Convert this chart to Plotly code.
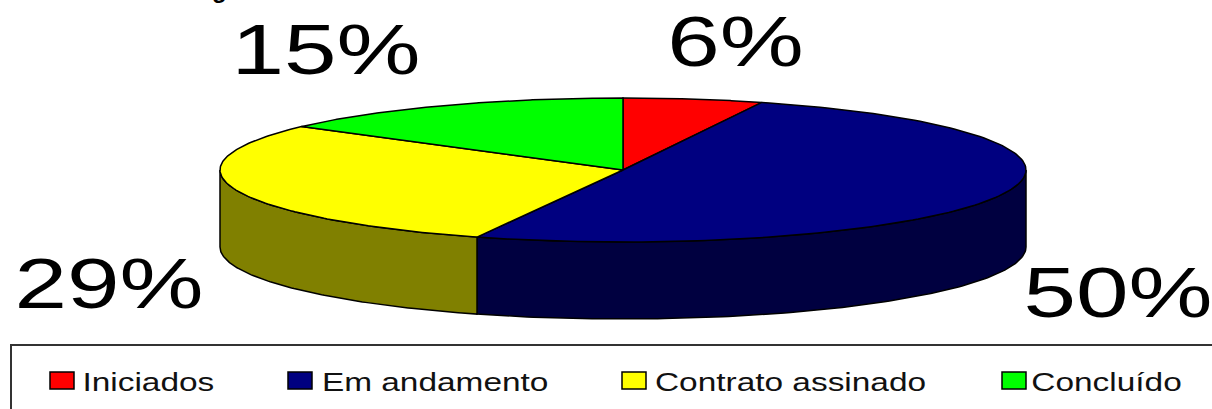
import numpy as np
import plotly.graph_objects as go

categories = ["Iniciados", "Em andamento", "Contrato assinado", "Concluído"]
values = [5.6, 50.3, 29.4, 14.7]
pct_labels = ["6%", "50%", "29%", "15%"]
top_colors = ["#ff0000", "#000080", "#ffff00", "#00ff00"]
side_colors = ["#800000", "#000040", "#808000", "#008000"]

label_x = [735, 1118, 109, 326]
label_y = [42, 293, 284, 50]
legend_swatch_x = [50, 288, 622, 1002]
legend_text_cx = [148, 434.5, 790, 1106]
legend_y = 381

CX, CY, RX, RY, DEPTH = 623, 170, 403, 72, 77
EDGE = "#000000"


def pt(theta):
    return CX + RX * np.sin(theta), CY - RY * np.cos(theta)


fig = go.Figure()
fractions = np.cumsum([0] + values) / sum(values)
angles = 2 * np.pi * fractions

# rim of the cylinder: only the front half (90°..270°) is visible
for i in range(len(values)):
    a0 = max(angles[i], np.pi / 2)
    a1 = min(angles[i + 1], 3 * np.pi / 2)
    if a1 <= a0:
        continue
    t = np.linspace(a0, a1, 120)
    x, y = pt(t)
    fig.add_trace(go.Scatter(
        x=np.r_[x, x[::-1], x[0]], y=np.r_[y, y[::-1] + DEPTH, y[0]],
        mode="lines", fill="toself", fillcolor=side_colors[i],
        line=dict(color=EDGE, width=1.5), hoverinfo="skip", showlegend=False))

# top faces
for i in range(len(values)):
    t = np.linspace(angles[i], angles[i + 1], 160)
    x, y = pt(t)
    fig.add_trace(go.Scatter(
        x=np.r_[CX, x, CX], y=np.r_[CY, y, CY],
        mode="lines", fill="toself", fillcolor=top_colors[i],
        line=dict(color=EDGE, width=1.5), name=categories[i],
        hoverinfo="name", showlegend=False))

for lab, lx, ly in zip(pct_labels, label_x, label_y):
    fig.add_annotation(x=lx, y=ly, xref="x", yref="y", text=lab, showarrow=False,
                       font=dict(family="Liberation Sans", size=70, color="#000000"))

fig.add_annotation(x=219, y=5, xref="x", yref="y", text="<b>g</b>", showarrow=False,
                   yanchor="bottom",
                   font=dict(family="Liberation Sans", size=24, color="#000000"))

# legend box
fig.add_shape(type="rect", x0=11, x1=1300, y0=345, y1=440, xref="x", yref="y",
              line=dict(color="#333333", width=2), fillcolor="#ffffff", layer="below")
for name, col, sx, cx in zip(categories, top_colors, legend_swatch_x, legend_text_cx):
    fig.add_shape(type="rect", x0=sx, x1=sx + 24, y0=legend_y - 9, y1=legend_y + 8,
                  xref="x", yref="y", fillcolor=col, line=dict(color="#000000", width=1.5))
    fig.add_annotation(x=cx, y=legend_y + 1, xref="x", yref="y", text=name, showarrow=False,
                       font=dict(family="Liberation Sans", size=26, color="#111111"))

fig.update_layout(
    width=1212, height=409, autosize=False,
    margin=dict(l=0, r=0, t=0, b=0),
    paper_bgcolor="#ffffff", plot_bgcolor="#ffffff",
    showlegend=False,
    xaxis=dict(range=[0, 1212], visible=False, fixedrange=True),
    yaxis=dict(range=[409, 0], visible=False, fixedrange=True),
)

# page margin off; the reference's text is stretched wide, so widen the glyphs
post = """
document.body.style.margin = '0';
document.querySelectorAll('.annotation-text').forEach(function (t) {
  var size = parseFloat(t.style.fontSize);
  var factor = size > 40 ? 1.35 : (size > 25 ? 1.285 : 1);
  if (factor !== 1) {
    t.setAttribute('textLength', t.getComputedTextLength() * factor);
    t.setAttribute('lengthAdjust', 'spacingAndGlyphs');
  }
});
"""
fig.write_html("out.html", config={"displayModeBar": False}, post_script=post)
